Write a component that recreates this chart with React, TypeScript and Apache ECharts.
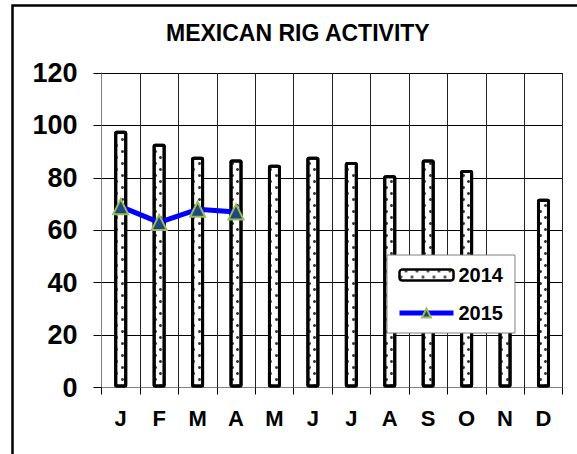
import React, { useEffect, useRef } from "react";
import * as echarts from "echarts";

const months = ["J", "F", "M", "A", "M", "J", "J", "A", "S", "O", "N", "D"];
const rigs2014 = [98, 93, 88, 87, 85, 88, 86, 81, 87, 83, 36, 72];
const rigs2015 = [69, 63, 68, 67, null, null, null, null, null, null, null, null];
const yTicks = { min: 0, max: 120, interval: 20 };
const titleText = "MEXICAN RIG ACTIVITY";

const FONT = "'Liberation Sans', Arial, sans-serif";

export default function App() {
  const ref = useRef<HTMLDivElement>(null);
  useEffect(() => {
    if (!ref.current) return;
    const chart = echarts.init(ref.current, null, { renderer: "svg" });
    chart.setOption({
      animation: false,
      backgroundColor: "#ffffff",
      title: {
        text: titleText,
        left: 166,
        top: 20,
        padding: 0,
        textStyle: { fontFamily: FONT, fontSize: 23, fontWeight: "bold", color: "#000", lineHeight: 26 },
      },
      graphic: [
        {
          type: "rect",
          shape: { x: 12.5, y: 5.5, width: 620, height: 520 },
          style: { fill: "none", stroke: "#000", lineWidth: 2.5 },
          silent: true,
          z: 100,
        },
      ],
      grid: { left: 101.5, right: 14.3, top: 73, bottom: 66.5, containLabel: false },
      legend: {
        orient: "vertical",
        left: 387,
        top: 255,
        padding: [10, 12, 10, 10],
        itemGap: 18,
        itemWidth: 54,
        itemHeight: 11,
        backgroundColor: "#ffffff",
        borderColor: "#808080",
        borderWidth: 1,
        textStyle: { fontFamily: FONT, fontSize: 20, fontWeight: "bold", color: "#000", lineHeight: 20 },
        data: [
          { name: "2014" },
          { name: "2015", lineStyle: { width: 5, color: "#0000ff" } },
        ],
        z: 10,
      },
      xAxis: {
        type: "category",
        data: months,
        boundaryGap: true,
        axisLine: { show: true, lineStyle: { color: "#808080", width: 1 } },
        axisTick: { show: true, interval: 0, length: 7, lineStyle: { color: "#000" } },
        splitLine: { show: true, interval: 0, lineStyle: { color: "#222", width: 1 } },
        axisLabel: {
          interval: 0,
          margin: 20,
          fontFamily: FONT,
          fontSize: 22,
          fontWeight: "bold",
          color: "#000",
        },
      },
      yAxis: {
        type: "value",
        min: yTicks.min,
        max: yTicks.max,
        interval: yTicks.interval,
        axisLine: { show: true, lineStyle: { color: "#808080", width: 1 } },
        axisTick: { show: true, length: 8, lineStyle: { color: "#000" } },
        splitLine: { show: true, lineStyle: { color: "#000", width: 1 } },
        axisLabel: {
          margin: 24,
          fontFamily: FONT,
          fontSize: 27,
          fontWeight: "bold",
          color: "#000",
        },
      },
      series: [
        {
          name: "2014",
          type: "bar",
          data: rigs2014,
          barWidth: 13,
          itemStyle: {
            color: "#ffffff",
            borderColor: "#000",
            borderWidth: 3,
            borderRadius: 1,
            decal: {
              symbol: "circle",
              symbolSize: 1,
              color: "#333",
              dashArrayX: [[2.2, 7.8], [0, 5, 2.2, 2.8]],
              dashArrayY: [2.2, 3],
              rotation: 0,
            },
          },
          z: 2,
        },
        {
          name: "2015",
          type: "line",
          data: rigs2015,
          symbol: "triangle",
          symbolSize: 15,
          connectNulls: false,
          lineStyle: { color: "#0000ff", width: 5 },
          itemStyle: { color: "#1f497d", borderColor: "#9bbb59", borderWidth: 2 },
          z: 3,
        },
      ],
    });
    return () => chart.dispose();
  }, []);
  return (
    <div
      ref={ref}
      style={{ position: "fixed", left: 0, top: 0, width: 577, height: 454 }}
    />
  );
}
